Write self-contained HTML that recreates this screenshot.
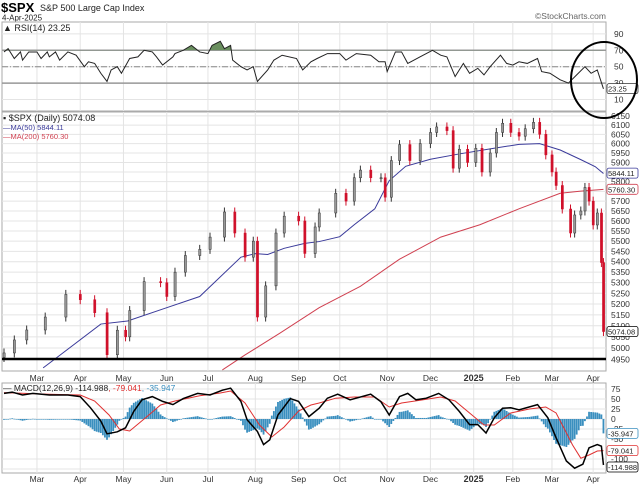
<!DOCTYPE html>
<html><head><meta charset="utf-8"><style>
html,body{margin:0;padding:0;background:#fff;}
svg{display:block;font-family:"Liberation Sans",sans-serif;}
</style></head><body>
<svg id="c" width="640" height="485" viewBox="0 0 640 485">
<text x="1" y="12" font-size="13" font-weight="bold">$SPX</text>
<text x="40" y="11" font-size="9" fill="#222">S&amp;P 500 Large Cap Index</text>
<text x="2" y="20.5" font-size="8" fill="#222">4-Apr-2025</text>
<text x="606" y="19" font-size="8.5" fill="#666" text-anchor="end">©StockCharts.com</text>
<g id="grid"></g>
<g id="marks"></g>
</svg>
<script>
// ---- data (day = trading-session index from ~7-Feb-2024) ----
const months = ["Mar","Apr","May","Jun","Jul","Aug","Sep","Oct","Nov","Dec","2025","Feb","Mar","Apr"];
const monthDays = [16,37,58,79,99,122,143,163,186,207,228,247,266,286];
const priceTicks = [4950,5000,5050,5100,5150,5200,5250,5300,5350,5400,5450,5500,5550,5600,5650,5700,5750,5800,5850,5900,5950,6000,6050,6100,6150];
const rsiTicks = [90,70,50,30,10];
const macdTicks = [75,50,25,0,-25,-50,-100,-125];
const closeDays = [0,5,11,20,30,37,44,50,55,59,61,68,76,79,83,88,95,100,107,112,117,121,123,127,132,136,143,146,151,153,161,166,170,173,178,183,185,188,192,197,202,207,210,215,218,221,225,229,232,236,239,242,246,250,253,257,260,263,266,268,271,275,277,280,282,284,286,288,290,291];
const closes = [4978,5036,5081,5140,5245,5220,5160,4970,5080,5050,5170,5305,5300,5235,5350,5430,5460,5520,5645,5540,5422,5500,5140,5285,5540,5624,5600,5440,5570,5640,5740,5700,5820,5860,5820,5820,5720,5910,5995,5910,6000,6060,6090,6070,5870,5970,5900,5975,5850,5950,6060,6110,6060,6040,6080,6115,6050,5940,5850,5780,5660,5540,5630,5650,5770,5700,5580,5640,5396,5074];
const ma50Days = [19,26,47,60,79,95,115,122,128,136,146,153,163,170,180,187,195,207,221,236,250,260,270,280,287,291];
const ma50 = [4912,4960,5108,5122,5183,5235,5422,5439,5435,5465,5489,5498,5522,5581,5661,5805,5880,5917,5945,5972,5996,6000,5966,5915,5878,5842];
const ma200Days = [106,117,134,153,173,192,212,231,250,270,280,291];
const ma200 = [4903,4969,5067,5183,5283,5412,5520,5581,5661,5740,5751,5760];
const rsiDays = [0,2,5,8,9,12,16,18,21,22,25,27,31,35,39,41,44,47,50,52,55,57,61,65,68,72,74,77,82,83,87,91,95,99,101,105,107,110,111,115,118,121,123,128,131,135,142,145,149,152,157,163,166,171,178,182,185,186,190,193,196,202,208,212,215,219,223,226,230,233,236,241,244,247,250,254,259,261,265,270,274,278,282,285,288,291];
const rsi = [68,72,60,68,58,68,68,60,68,62,68,58,68,64,50,56,54,42,32,46,50,42,60,62,70,68,62,52,62,66,70,76,68,66,76,81,72,76,58,50,46,50,32,46,58,64,60,46,56,60,66,66,58,66,64,56,56,44,68,68,54,62,70,64,62,38,54,42,48,40,50,64,54,52,56,54,60,44,42,34,30,40,50,42,46,23];
const macdDays = [0,4,9,14,22,31,37,42,47,50,55,59,63,67,72,77,82,87,94,100,106,110,115,118,123,126,129,133,139,143,148,153,157,162,168,178,183,187,192,196,200,205,211,216,221,226,230,234,238,242,246,250,259,264,268,273,277,281,284,288,290,291];
const macd = [64,67,60,64,60,60,56,28,-5,-37,-32,-22,19,48,56,44,36,51,64,60,72,77,44,-2,-31,-64,-52,10,51,44,6,27,52,62,48,62,43,10,56,64,48,52,64,48,19,-14,-14,-35,3,27,28,23,36,3,-47,-105,-123,-113,-72,-64,-68,-115];
const sigDays = [0,22,37,44,51,56,61,68,76,83,95,105,110,117,124,130,136,143,149,153,161,170,180,187,193,202,212,219,226,233,238,246,255,263,268,272,276,280,284,288,291];
const signal = [66,62,60,45,10,-25,-30,0,35,45,58,65,70,40,-15,-45,-20,20,35,40,52,55,55,30,40,47,55,45,15,-15,-15,15,25,30,15,-25,-65,-98,-90,-80,-79];

// ---- scales ----
const L=2,R=606;
const X = d => 4 + d*2.06;
const RSI_Y = v => 66.7 - (v-50)*0.82;
const P_Y = p => 348 - 1121*Math.log(p/5000);
const M_Y = v => 419 - 0.4*v;
const NS="http://www.w3.org/2000/svg";
const grid=document.getElementById('grid'), marks=document.getElementById('marks');
function mk(tag, attrs, parent){const e=document.createElementNS(NS,tag);for(const k in attrs)e.setAttribute(k,attrs[k]);(parent||marks).appendChild(e);return e;}
function interp(ds,vs,d){if(d<=ds[0])return vs[0];for(let i=1;i<ds.length;i++){if(d<=ds[i]){const t=(d-ds[i-1])/(ds[i]-ds[i-1]);return vs[i-1]+t*(vs[i]-vs[i-1]);}}return vs[vs.length-1];}

const panels=[[22,111,'rsi-panel'],[112,371,'price-panel'],[383,473,'macd-panel']];
panels.forEach(p=>{
  const r=mk('rect',{x:L,y:p[0],width:R-L,height:p[1]-p[0],fill:'#fff',stroke:'#aaa','stroke-width':1},grid);
  
  
});
monthDays.forEach((d,i)=>{
  const x=X(d);
  panels.forEach(p=>{mk('line',{x1:x,x2:x,y1:p[0],y2:p[1],stroke:'#e4e4e4'},grid);});
  [378,479].forEach(y=>{
    const t=mk('text',{x:x,y:y+3,'font-size':months[i]==='2025'?9:8.5,'font-weight':months[i]==='2025'?'bold':'normal','text-anchor':'middle',fill:'#333'},grid);
    t.textContent=months[i];
    
    
  });
});
priceTicks.forEach(v=>{
  const y=P_Y(v);
  mk('line',{x1:L,x2:R,y1:y,y2:y,stroke:'#e4e4e4'},grid);
  const t=mk('text',{x:611,y:y+3,'font-size':8.5,fill:'#333'},grid);
  t.textContent=v;
  
  
});
rsiTicks.forEach(v=>{
  const y=RSI_Y(v);
  mk('line',{x1:L,x2:R,y1:y,y2:y,stroke:'#e4e4e4'},grid);
  const t=mk('text',{x:614,y:y+3,'font-size':8.5,fill:'#333'},grid);
  t.textContent=v;
  
  
});
[70,30].forEach(v=>mk('line',{x1:L,x2:R,y1:RSI_Y(v),y2:RSI_Y(v),stroke:'#999','stroke-width':1.5},grid));
mk('line',{x1:L,x2:R,y1:RSI_Y(50),y2:RSI_Y(50),stroke:'#888','stroke-dasharray':'6,2,1,2'},grid);
macdTicks.forEach(v=>{
  const y=M_Y(v);
  mk('line',{x1:L,x2:R,y1:y,y2:y,stroke:'#e4e4e4'},grid);
  const t=mk('text',{x:611,y:y+3,'font-size':8.5,fill:'#333'},grid);
  t.textContent=v;
  
  
});

// ---- RSI ----
const rsiPts=rsiDays.map((d,i)=>X(d)+','+RSI_Y(rsi[i]));
const y70=RSI_Y(70);
const clip=mk('clipPath',{id:'above70'},grid);
mk('rect',{x:0,y:0,width:640,height:y70},clip);
const fillPath='M'+X(rsiDays[0])+','+y70+' L'+rsiPts.join(' L')+' L'+X(rsiDays[rsiDays.length-1])+','+y70+' Z';
const rf=mk('path',{d:fillPath,fill:'#6a8f5f','clip-path':'url(#above70)'});


const rl=mk('polyline',{points:rsiPts.join(' '),fill:'none',stroke:'#222','stroke-width':1});



// ---- price ----
const pclip=mk('clipPath',{id:'pclip'},grid);
mk('rect',{x:L,y:112,width:R-L,height:259},pclip);
const pg=mk('g',{'clip-path':'url(#pclip)'});
const m200=mk('polyline',{points:ma200Days.map((d,i)=>X(d)+','+P_Y(ma200[i])).join(' '),fill:'none',stroke:'#d04050','stroke-width':1},pg);


const m50=mk('polyline',{points:ma50Days.map((d,i)=>X(d)+','+P_Y(ma50[i])).join(' '),fill:'none',stroke:'#3a3a9a','stroke-width':1},pg);


closes.forEach((c,i)=>{
  const o=i>0?closes[i-1]:c-20;
  const x=X(closeDays[i]);
  const up=c>=o;
  const hi=Math.max(o,c)*1.004, lo=Math.min(o,c)*0.996;
  const col=up?'#333':'#d0102a';
  mk('line',{x1:x,x2:x,y1:P_Y(hi),y2:P_Y(lo),stroke:col,'stroke-width':1},pg);
  const b=mk('rect',{x:x-1,y:P_Y(Math.max(o,c)),width:2.2,height:Math.max(1,P_Y(Math.min(o,c))-P_Y(Math.max(o,c))),fill:up?'#999':'#d0102a',stroke:col,'stroke-width':0.5},pg);
  
  
});
const sup=mk('line',{x1:L,x2:R,y1:P_Y(4951),y2:P_Y(4951),stroke:'#000','stroke-width':2.5});



// ---- MACD ----
for(let d=0; d<=291; d++){
  const h=interp(macdDays,macd,d)-interp(sigDays,signal,d);
  const y0=M_Y(0), y1=M_Y(h);
  const b=mk('rect',{x:X(d)-0.9,y:Math.min(y0,y1),width:1.8,height:Math.max(0.6,Math.abs(y1-y0)),fill:'#3a8fbf'});
  
  
}
const sl=mk('polyline',{points:sigDays.map((d,i)=>X(d)+','+M_Y(signal[i])).join(' '),fill:'none',stroke:'#e03030','stroke-width':1});


const ml=mk('polyline',{points:macdDays.map((d,i)=>X(d)+','+M_Y(macd[i])).join(' '),fill:'none',stroke:'#000','stroke-width':1.5});



// ---- legends ----
function txt(x,y,s,fill,size,name){const t=mk('text',{x:x,y:y,'font-size':size||8.5,fill:fill||'#222'});t.textContent=s;return t;}
txt(3,31,'▲ RSI(14) 23.25','#222',9,'rsi-legend');
txt(3,121,'▪ $SPX (Daily) 5074.08','#222',9,'price-legend');
txt(3,130,'—MA(50) 5844.11','#3a3a9a',7.5,'ma50-legend');
txt(3,139,'—MA(200) 5760.30','#d04050',7.5,'ma200-legend');
const mlg=mk('text',{x:3,y:391,'font-size':8.5,fill:'#222'});
mlg.innerHTML='— MACD(12,26,9) -114.988<tspan fill="#e03030">, -79.041</tspan><tspan fill="#3a8fbf">, -35.947</tspan>';



function tag(y,s,col,name){
  const r=mk('rect',{x:607,y:y-5,width:31,height:10,fill:'#fff',stroke:col,'stroke-width':0.8,rx:2});
  
  
  const t=mk('text',{x:608,y:y+3,'font-size':7.5,fill:'#222'});t.textContent=s;
}
tag(RSI_Y(23.25),'23.25','#333','rsi-value-tag');
tag(P_Y(5844.11),'5844.11','#3a3a9a','ma50-value-tag');
tag(P_Y(5760.30),'5760.30','#d04050','ma200-value-tag');
tag(P_Y(5074.08),'5074.08','#000','close-value-tag');
tag(M_Y(-35.947),'-35.947','#3a8fbf','histogram-value-tag');
tag(M_Y(-79.041),'-79.041','#e03030','signal-value-tag');
tag(M_Y(-114.988)+2,'-114.988','#000','macd-value-tag');

const ci=mk('ellipse',{cx:604,cy:80,rx:33,ry:38,fill:'none',stroke:'#000','stroke-width':2});


</script>
</body></html>
